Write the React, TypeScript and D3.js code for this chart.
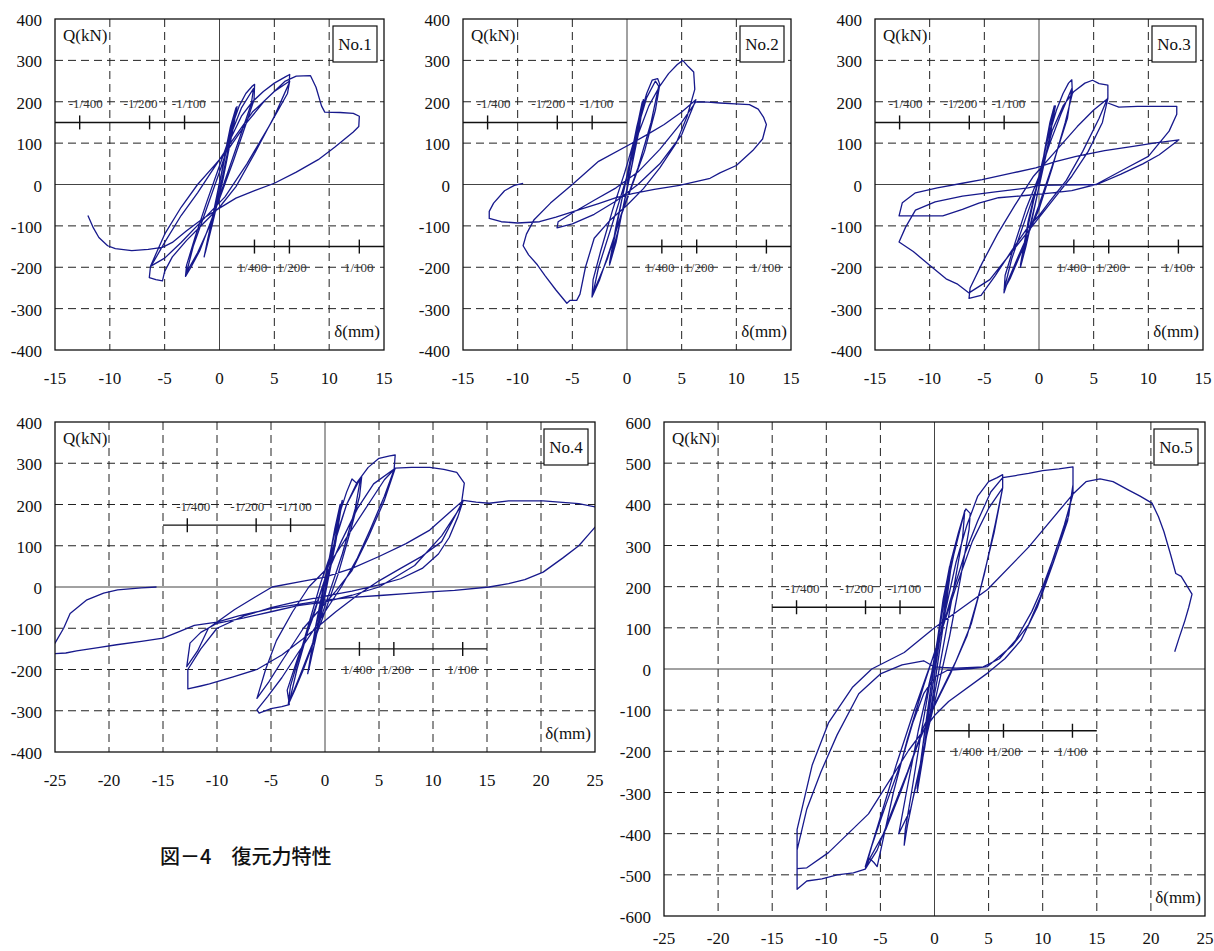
import React from 'react';
import * as d3 from 'd3';

type Pt = [number, number];

// 変位 δ (mm), 荷重 Q (kN) — 図から読み取った値
const no1: Pt[] = [
  [0, 0], [0.5, 75], [1.0, 140], [1.5, 185], [1.3, 155], [0.6, 60], [0, -15], [-0.6, -85], [-1.1, -140], [-1.4, -175],
  [-1.1, -135], [-0.4, -50], [0.3, 40], [0.9, 120], [1.6, 188], [1.2, 130], [0.3, 10], [-0.6, -90], [-1.3, -165],
  [-0.8, -100], [0, 5],
  [0.6, 80], [1.2, 145], [1.8, 190], [2.4, 220], [3.0, 238], [3.2, 242], [3.15, 205], [2.4, 145], [1.3, 60], [0.2, -20],
  [-0.8, -90], [-1.8, -160], [-2.6, -200], [-3.1, -222], [-3.0, -195], [-2.2, -125], [-1.2, -45], [-0.2, 30], [0.8, 105],
  [2.0, 185], [3.1, 232], [2.9, 195], [1.8, 110], [0.5, 10], [-0.8, -95], [-2.0, -165], [-3.0, -212], [-2.4, -150],
  [-1.2, -60], [0, 30],
  [1.0, 110], [2.0, 165], [3.0, 200], [4.0, 225], [5.0, 245], [6.0, 260], [6.4, 266], [6.35, 245], [5.0, 165], [3.2, 75],
  [1.5, -5], [0, -55], [-1.5, -95], [-3.0, -135], [-4.3, -175], [-5.0, -210], [-5.2, -233], [-5.8, -230], [-6.4, -225],
  [-6.3, -200], [-5.0, -140], [-3.5, -75], [-2.0, -20], [-0.5, 40], [1.0, 100], [3.0, 175], [5.0, 225], [6.4, 250],
  [6.2, 220], [4.5, 140], [2.5, 50], [0.5, -30], [-1.5, -85], [-3.5, -140], [-5.0, -178], [-6.3, -198], [-5.0, -120],
  [-3.5, -55], [-2.0, 0], [-0.5, 45], [0.8, 85], [2.5, 150], [4.2, 205], [6.0, 250], [7.0, 262], [8.3, 263], [8.8, 235],
  [9.3, 190], [9.6, 175], [11.0, 174], [12.2, 172], [12.75, 165], [12.7, 140], [12.2, 127], [10.5, 90], [9.0, 60], [7.0, 30],
  [5.0, 3], [3.2, -15], [1.5, -33], [0, -57], [-1.5, -82], [-3.0, -112], [-4.3, -140], [-5.2, -152], [-6.5, -157],
  [-8.0, -160], [-9.5, -155], [-10.2, -148], [-11.0, -128], [-11.5, -105], [-12.0, -75],
];

const no2: Pt[] = [
  [0, 0], [0.5, 80], [1.0, 150], [1.4, 200], [1.2, 160], [0.4, 40], [-0.4, -60], [-1.0, -140], [-1.6, -195],
  [-1.3, -150], [-0.5, -40], [0.3, 60], [0.9, 140], [1.5, 205], [1.1, 130], [0.1, 0], [-0.8, -110], [-1.6, -190],
  [-1.0, -100], [0, 20],
  [0.6, 90], [1.2, 165], [1.8, 220], [2.3, 252], [2.8, 256], [3.0, 242], [2.6, 180], [1.6, 80], [0.5, 0],
  [-0.6, -80], [-1.6, -160], [-2.5, -230], [-3.2, -272], [-3.1, -230], [-2.4, -160], [-1.3, -60], [-0.2, 30],
  [0.8, 120], [1.8, 210], [2.6, 250], [2.9, 238], [2.2, 150], [1.0, 40], [-0.5, -70], [-1.8, -180], [-3.1, -262],
  [-2.6, -200], [-1.4, -100], [0, 20],
  [1.0, 120], [2.0, 190], [3.0, 238], [3.8, 268], [4.6, 290], [5.1, 300], [5.6, 285], [6.1, 272], [6.2, 230],
  [5.5, 165], [4.5, 100], [3.0, 40], [1.5, -10], [0, -50], [-1.5, -85], [-3.0, -130], [-3.8, -200], [-4.3, -265],
  [-4.6, -280], [-5.2, -280], [-5.5, -287], [-6.5, -255], [-7.5, -220], [-8.2, -194], [-9.0, -170], [-9.5, -148],
  [-9.2, -120], [-8.5, -85], [-7.0, -45], [-5.0, 0], [-2.6, 56], [0.2, 96], [1.8, 120], [3.4, 145], [5.0, 175],
  [6.3, 205], [5.0, 120], [3.0, 50], [1.0, 0], [-1.0, -40], [-3.0, -72], [-5.0, -95], [-6.4, -105], [-6.3, -90],
  [-5.0, -69], [-3.0, -38], [-1.0, -8], [1.0, 30], [3.0, 85], [5.0, 150], [6.3, 200],
  [7.4, 199], [8.5, 197], [9.9, 195], [11.2, 193], [12.0, 182], [12.5, 162], [12.75, 145], [12.4, 110], [11.5, 82],
  [10.0, 46], [8.5, 28], [7.6, 15], [6.0, 5], [4.8, -2], [2.5, -12], [0.5, -22], [-1.0, -32], [-2.6, -46],
  [-4.5, -62], [-6.5, -79], [-8.0, -90], [-10.0, -93], [-11.5, -90], [-12.6, -82], [-12.6, -65], [-12.2, -45],
  [-11.2, -15], [-10.3, -2], [-9.5, 3],
];

const no3: Pt[] = [
  [0, 0], [0.5, 80], [1.0, 150], [1.4, 190], [1.1, 130], [0.2, 20], [-0.6, -80], [-1.2, -150], [-1.7, -200],
  [-1.4, -150], [-0.5, -40], [0.4, 60], [1.0, 140], [1.5, 190], [0.8, 90], [-0.2, -30], [-1.0, -120], [-1.7, -195],
  [-1.0, -90], [0, 20],
  [0.8, 110], [1.6, 180], [2.2, 220], [2.7, 245], [3.0, 253], [3.05, 220], [2.4, 150], [1.2, 40], [0, -60],
  [-1.0, -120], [-2.0, -180], [-2.8, -230], [-3.2, -262], [-3.1, -220], [-2.3, -150], [-1.2, -60], [0, 20],
  [1.0, 100], [2.0, 170], [3.0, 232], [2.6, 160], [1.4, 60], [0, -50], [-1.4, -150], [-2.6, -225], [-3.2, -255],
  [-2.5, -180], [-1.2, -80], [0, 10],
  [1.2, 130], [2.2, 190], [3.2, 225], [4.2, 245], [4.9, 252], [5.5, 244], [6.3, 240], [6.3, 210], [5.5, 160],
  [4.0, 80], [2.5, 10], [1.0, -40], [0, -75], [-1.2, -110], [-2.5, -160], [-4.0, -220], [-5.3, -268], [-6.4, -275],
  [-6.3, -250], [-5.2, -190], [-3.8, -120], [-2.2, -50], [-0.5, 20], [1.5, 80], [3.5, 140], [5.0, 180], [6.3, 208],
  [5.8, 150], [4.5, 80], [3.0, 20], [1.5, -30], [0, -80], [-1.5, -130], [-3.0, -180], [-4.5, -230], [-6.4, -262],
  [-7.5, -240], [-8.5, -228], [-10.0, -195], [-11.5, -162], [-12.8, -139], [-12.2, -103], [-11.3, -62], [-9.5, -42],
  [-7.0, -28], [-4.0, -18], [-1.0, -8], [0, -2], [5.3, 0], [7.5, 25], [9.5, 50], [11.0, 72], [12.8, 108],
  [10.5, 100], [8.6, 92], [6.0, 82], [3.4, 68], [1.5, 55], [-0.3, 40], [-2.4, 28], [-5.2, 12], [-7.0, 3], [-9.3, -8],
  [-11.3, -20], [-12.5, -44], [-12.8, -76], [-11.0, -76], [-8.8, -76], [-7.0, -60], [-5.5, -45], [-3.7, -32],
  [-1.0, -26], [1.2, -20], [3.0, -15], [5.2, 0], [8.0, 40], [10.0, 68], [11.9, 129], [12.6, 170], [12.6, 189],
  [11.0, 189], [9.0, 189], [7.3, 187], [6.3, 197],
];

const no4: Pt[] = [
  [0, 0], [0.4, 70], [0.9, 140], [1.4, 200], [1.1, 140], [0.3, 30], [-0.5, -70], [-1.0, -140], [-1.5, -200],
  [-1.1, -130], [-0.3, -30], [0.5, 80], [1.0, 150], [1.6, 210], [1.0, 110], [0, -20], [-0.9, -130], [-1.6, -210],
  [-0.9, -100], [0, 20],
  [0.8, 120], [1.5, 190], [2.0, 230], [2.5, 262], [3.0, 250], [3.4, 268], [3.2, 220], [2.4, 140], [1.2, 30],
  [0, -60], [-1.0, -130], [-2.0, -200], [-2.8, -250], [-3.4, -285], [-3.2, -240], [-2.4, -170], [-1.4, -80],
  [-0.4, 10], [0.8, 100], [2.0, 200], [3.3, 265], [2.8, 190], [1.6, 80], [0.2, -30], [-1.2, -140], [-2.4, -220],
  [-3.3, -278], [-2.6, -200], [-1.4, -90], [0, 20],
  [1.0, 120], [2.0, 200], [3.0, 255], [4.0, 290], [5.0, 312], [6.0, 318], [6.5, 320], [6.4, 285], [5.5, 220],
  [4.2, 140], [3.0, 70], [1.5, 0], [0, -60], [-1.2, -110], [-2.5, -160], [-4.0, -220], [-5.3, -265], [-6.3, -298],
  [-6.1, -306], [-5.0, -295], [-4.0, -290], [-3.3, -285], [-3.5, -250], [-2.5, -170], [-1.2, -80], [0, 20],
  [1.5, 110], [3.0, 190], [4.5, 250], [6.5, 288], [5.5, 210], [4.0, 120], [2.5, 40], [1.0, -10], [0, -40],
  [-2.0, -100], [-4.0, -180], [-5.2, -230], [-6.3, -270], [-5.5, -200], [-4.5, -130], [-3.0, -60], [-1.5, 0],
  [0, 40], [2.0, 120], [4.0, 200], [5.5, 260], [6.5, 288], [8.0, 290], [9.7, 290], [11.0, 285], [12.2, 278],
  [12.9, 252], [12.6, 196], [10.8, 124], [8.3, 52], [5.0, 0], [2.5, -20], [0, -36], [-2.5, -45], [-5.0, -60],
  [-7.5, -75], [-10.0, -88], [-11.5, -110], [-12.5, -136], [-12.8, -193], [-11.8, -155], [-10.8, -100],
  [-8.4, -55], [-6.5, -25], [-4.9, 0], [-2.5, 12], [0, 24], [2.5, 45], [5.0, 74], [7.5, 105], [9.7, 138],
  [11.5, 180], [12.8, 210], [12.3, 170], [11.5, 120], [10.5, 80], [9.0, 45], [7.0, 20], [5.0, 5], [2.5, -10],
  [0, -22], [-2.5, -35], [-5.0, -50], [-7.5, -70], [-10.0, -100], [-11.5, -150], [-12.7, -200], [-12.7, -247],
  [-11.5, -240], [-10.7, -235], [-8.5, -218], [-6.3, -200], [-4.0, -165], [-2.0, -125], [-0.5, -93], [1.0, -60],
  [3.0, -20], [5.0, 15], [7.0, 45], [9.0, 75], [10.8, 110], [11.8, 160], [12.8, 210], [14.0, 206], [15.2, 203],
  [17.0, 209], [18.5, 209], [20.2, 209], [22.0, 205], [23.5, 202], [25.2, 193], [25.8, 180], [25.5, 160],
  [24.5, 130], [23.5, 100], [22.0, 70], [20.2, 36], [18.5, 18], [17.0, 8], [15.2, 0], [12.0, -8], [9.7, -12],
  [7.5, -16], [5.4, -20], [2.5, -25], [0, -32], [-2.5, -42], [-4.9, -52], [-8.0, -70], [-10.0, -85],
  [-12.1, -93], [-13.5, -108], [-15.0, -124], [-17.0, -132], [-19.3, -140], [-21.0, -147], [-23.0, -155],
  [-24.0, -160], [-25.5, -162], [-26.0, -155], [-25.5, -140], [-25.0, -136], [-24.2, -100], [-23.6, -64],
  [-22.1, -32], [-20.5, -15], [-19.2, -7], [-17.0, -2], [-15.6, 0],
];

const no5: Pt[] = [
  [0, 0], [0.4, 90], [0.9, 180], [1.4, 250], [1.1, 180], [0.3, 40], [-0.5, -100], [-1.1, -220], [-1.6, -300],
  [-1.2, -210], [-0.4, -60], [0.5, 100], [1.0, 190], [1.6, 262], [1.0, 140], [0, -40], [-0.9, -190], [-1.6, -290],
  [-0.9, -150], [0, 20],
  [0.8, 170], [1.5, 260], [2.2, 330], [2.7, 375], [2.9, 389], [3.3, 378], [3.2, 340], [2.4, 220], [1.4, 80],
  [0.2, -60], [-0.8, -170], [-1.8, -290], [-2.5, -380], [-2.8, -428], [-2.7, -390], [-2.0, -280], [-1.2, -150],
  [-0.2, 0], [0.8, 150], [1.8, 280], [2.8, 385], [2.6, 320], [1.6, 170], [0.3, -20], [-1.0, -200], [-2.2, -340],
  [-3.3, -400], [-2.6, -300], [-1.5, -150], [0, 20],
  [1.0, 140], [2.0, 260], [3.0, 350], [4.0, 420], [5.0, 455], [5.8, 465], [6.3, 472], [6.3, 440], [5.6, 350],
  [4.6, 230], [3.4, 110], [2.0, 20], [0.5, -60], [-1.0, -140], [-2.5, -250], [-4.0, -350], [-5.3, -440],
  [-6.4, -486], [-6.0, -460], [-5.6, -470], [-5.3, -480], [-4.8, -420], [-3.8, -300], [-2.5, -170], [-1.0, -40],
  [0.5, 80], [2.0, 200], [3.5, 310], [5.0, 390], [6.3, 440], [5.5, 330], [4.2, 190], [3.0, 80], [1.5, -10],
  [0, -90], [-1.5, -180], [-3.0, -290], [-4.5, -390], [-6.4, -480],
  [-5.0, -360], [-3.5, -230], [-2.0, -110], [-0.8, -20], [0.3, 60], [1.5, 170], [2.8, 280], [4.0, 360],
  [5.2, 430], [6.3, 465], [7.5, 470], [8.7, 475], [10.0, 482], [11.5, 486], [12.8, 491], [12.8, 448],
  [12.4, 372], [11.3, 295], [9.8, 176], [8.7, 108], [7.2, 57], [4.9, 6], [3.4, 1], [1.2, -3], [0, -20],
  [-1.0, -60], [-2.0, -130], [-3.0, -220], [-4.5, -330], [-5.8, -430], [-6.4, -486], [-7.5, -495], [-9.0, -500],
  [-10.4, -510], [-11.8, -515], [-12.7, -535], [-12.7, -390], [-11.3, -233], [-9.8, -131], [-7.6, -45],
  [-5.8, 0], [-2.8, 40], [0, 100], [4.9, 193], [8.7, 296], [12.8, 425], [12.8, 448], [12.3, 360], [11.0, 260],
  [9.5, 150], [8.0, 70], [6.5, 25], [4.9, -10], [1.3, -79], [0, -113], [-2.4, -198], [-6.1, -352], [-9.8, -446],
  [-11.8, -483], [-12.7, -485], [-12.7, -440], [-11.8, -340], [-10.5, -250], [-9.0, -160], [-7.0, -60],
  [-5.0, -12], [-3.0, 10], [-1.0, 20], [0, 5], [2.0, 2], [4.5, 5], [6.0, 25], [7.5, 70], [9.0, 140], [10.0, 200],
  [11.0, 270], [12.0, 350], [12.8, 425], [14.0, 455], [15.3, 462], [16.5, 455], [17.9, 435], [19.0, 420],
  [20.1, 403], [20.7, 370], [21.2, 334], [21.8, 280], [22.3, 232], [22.8, 225], [23.8, 182], [23.5, 150],
  [23.1, 114], [22.6, 75], [22.2, 42],
];

const specimenNames = ['No.1', 'No.2', 'No.3', 'No.4', 'No.5'];
const xTicksSmall = [-15, -10, -5, 0, 5, 10, 15];
const xTicksLarge = [-25, -20, -15, -10, -5, 0, 5, 10, 15, 20, 25];
const yTicks400 = [-400, -300, -200, -100, 0, 100, 200, 300, 400];
const yTicks600 = [-600, -500, -400, -300, -200, -100, 0, 100, 200, 300, 400, 500, 600];
// 部材角 1/400, 1/200, 1/100 に相当する変位 (mm)
const driftTicksNeg = [-12.75, -6.375, -3.1875];
const driftTicksPos = [3.1875, 6.375, 12.75];
const driftLabelsNeg = ['-1/400', '-1/200', '-1/100'];
const driftLabelsPos = ['1/400', '1/200', '1/100'];
const driftLabelNegAt = [-12.2, -7.2, -2.8];
const driftLabelPosAt = [3.0, 6.6, 12.7];
const driftLevel = 150;
const titleText = '図－4　復元力特性';

const serif = "'Liberation Serif', 'Times New Roman', serif";
const curveColor = '#17198c';

type PanelProps = {
  name: string;
  data: Pt[];
  left: number;
  top: number;
  width: number;
  height: number;
  xTicks: number[];
  yTicks: number[];
  labelGap: number;
};

function Panel({ name, data, left, top, width, height, xTicks, yTicks, labelGap }: PanelProps) {
  const x = d3.scaleLinear().domain([xTicks[0], xTicks[xTicks.length - 1]]).range([left, left + width]);
  const y = d3.scaleLinear().domain([yTicks[0], yTicks[yTicks.length - 1]]).range([top + height, top]);
  const line = d3.line<Pt>().x(d => x(d[0])).y(d => y(d[1]));
  const clipId = 'clip-' + name.replace('.', '');
  const right = left + width;
  const bottom = top + height;
  const scaleEnd = 15;
  const txt = { fontFamily: serif };

  return (
    <g>
      <defs>
        <clipPath id={clipId}>
          <rect x={left} y={top} width={width} height={height} />
        </clipPath>
      </defs>

      {/* grid */}
      {xTicks.slice(1, -1).map(t => (
        <line key={'gx' + t} x1={x(t)} x2={x(t)} y1={top} y2={bottom}
          stroke={t === 0 ? '#444' : '#222'} strokeWidth={1}
          strokeDasharray={t === 0 ? undefined : '8,5'} />
      ))}
      {yTicks.slice(1, -1).map(t => (
        <line key={'gy' + t} x1={left} x2={right} y1={y(t)} y2={y(t)}
          stroke={t === 0 ? '#444' : '#222'} strokeWidth={1}
          strokeDasharray={t === 0 ? undefined : '8,5'} />
      ))}

      {/* drift angle scales */}
      <line x1={x(-scaleEnd)} x2={x(0)} y1={y(driftLevel)} y2={y(driftLevel)} stroke="#111" strokeWidth={1.4} />
      {driftTicksNeg.map(t => (
        <line key={'dn' + t} x1={x(t)} x2={x(t)} y1={y(driftLevel) - 7} y2={y(driftLevel) + 7} stroke="#111" strokeWidth={1.4} />
      ))}
      {driftLabelsNeg.map((s, i) => (
        <text key={'dln' + i} x={x(driftLabelNegAt[i])} y={y(196) + 4.5} textAnchor="middle"
          style={txt} fontSize={13} fill="#333">{s}</text>
      ))}
      <line x1={x(0)} x2={x(scaleEnd)} y1={y(-driftLevel)} y2={y(-driftLevel)} stroke="#111" strokeWidth={1.4} />
      {driftTicksPos.map(t => (
        <line key={'dp' + t} x1={x(t)} x2={x(t)} y1={y(-driftLevel) - 7} y2={y(-driftLevel) + 7} stroke="#111" strokeWidth={1.4} />
      ))}
      {driftLabelsPos.map((s, i) => (
        <text key={'dlp' + i} x={x(driftLabelPosAt[i])} y={y(-200) + 4.5} textAnchor="middle"
          style={txt} fontSize={13} fill="#333">{s}</text>
      ))}

      {/* hysteresis curve */}
      <path d={line(data) || ''} fill="none" stroke={curveColor} strokeWidth={1.3}
        strokeLinejoin="round" clipPath={`url(#${clipId})`} />

      {/* frame */}
      <rect x={left} y={top} width={width} height={height} fill="none" stroke="#111" strokeWidth={1.3} />

      {/* tick labels */}
      {yTicks.map(t => (
        <text key={'ly' + t} x={left - 13} y={y(t) + 7} textAnchor="end" style={txt} fontSize={17} fill="#111">{t}</text>
      ))}
      {xTicks.map(t => (
        <text key={'lx' + t} x={x(t)} y={bottom + labelGap} textAnchor="middle" style={txt} fontSize={17} fill="#111">{t}</text>
      ))}

      {/* labels */}
      <text x={left + 8} y={top + 22} style={txt} fontSize={17} fill="#111">Q(kN)</text>
      <text x={right - 4} y={bottom - 13} textAnchor="end" style={txt} fontSize={17} fill="#111">δ(mm)</text>
      <rect x={right - 51} y={top + 7} width={44} height={36} fill="#fff" stroke="#111" strokeWidth={1.2} />
      <text x={right - 29} y={top + 31} textAnchor="middle" style={txt} fontSize={17} fill="#111">{name}</text>
    </g>
  );
}

export default function App() {
  const datasets = [no1, no2, no3, no4, no5];
  const layout = [
    { left: 55, top: 19, width: 329, height: 331, xTicks: xTicksSmall, yTicks: yTicks400, labelGap: 34 },
    { left: 463, top: 19, width: 328, height: 331, xTicks: xTicksSmall, yTicks: yTicks400, labelGap: 34 },
    { left: 875, top: 19, width: 328, height: 331, xTicks: xTicksSmall, yTicks: yTicks400, labelGap: 34 },
    { left: 55, top: 422, width: 540, height: 330, xTicks: xTicksLarge, yTicks: yTicks400, labelGap: 34 },
    { left: 664, top: 422, width: 541, height: 494, xTicks: xTicksLarge, yTicks: yTicks600, labelGap: 28 },
  ];
  return (
    <div style={{ position: 'absolute', left: 0, top: 0 }}>
      <svg width={1214} height={951} style={{ display: 'block', background: '#fff' }}>
        {layout.map((l, i) => (
          <Panel key={specimenNames[i]} name={specimenNames[i]} data={datasets[i]} {...l} />
        ))}
        <text x={160} y={864} style={{ fontFamily: "'Noto Sans CJK JP', sans-serif" }} fontSize={20} fontWeight={500}
          fill="#111">{titleText}</text>
      </svg>
    </div>
  );
}
